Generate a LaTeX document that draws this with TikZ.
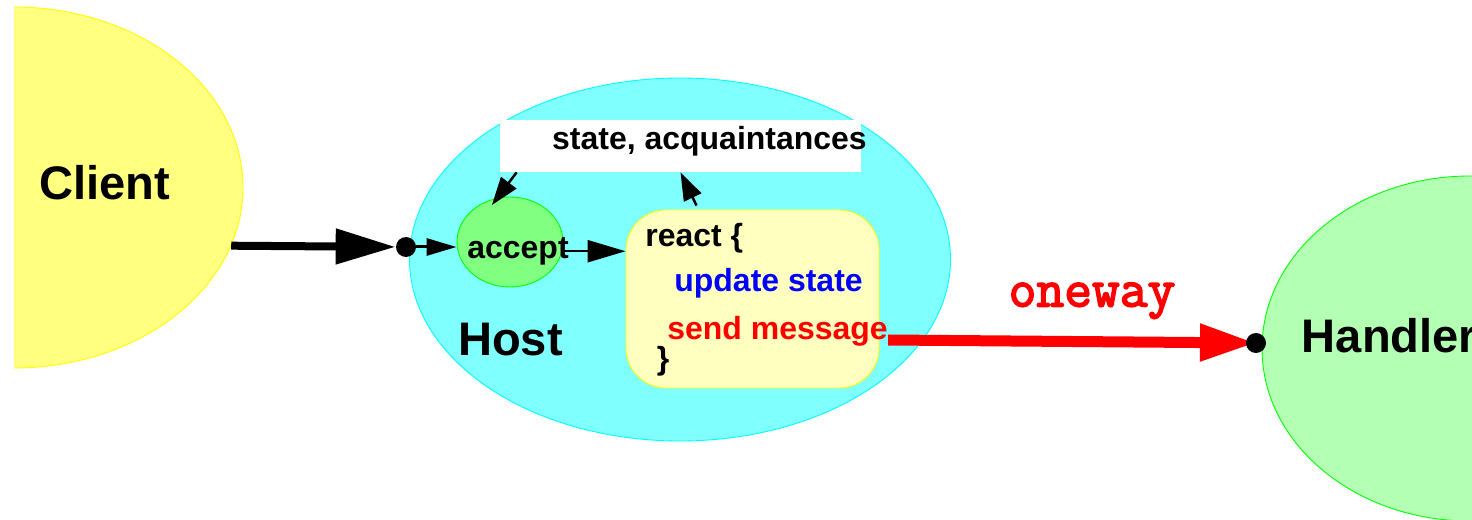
\documentclass[tikz,border=0pt]{standalone}
\usepackage{fontspec}
\setmainfont{Liberation Sans}
\newfontfamily\cour{Latin Modern Mono}[FakeBold=3]
\usetikzlibrary{shapes.geometric,arrows.meta}
\definecolor{cliyel}{RGB}{255,255,128}
\definecolor{hostcyan}{RGB}{128,255,255}
\definecolor{accgreen}{RGB}{128,255,128}
\definecolor{reactyel}{RGB}{255,255,192}
\definecolor{handgreen}{RGB}{179,255,179}
\definecolor{edgeyel}{RGB}{255,255,0}
\definecolor{edgecyan}{RGB}{0,255,255}
\definecolor{edgegreen}{RGB}{0,255,0}
\definecolor{pureblue}{RGB}{0,0,255}
\definecolor{purered}{RGB}{255,0,0}
\begin{document}
\begin{tikzpicture}[line join=round]
			\tikzset{ell/.style={ellipse,inner sep=0,line width=0.5pt},
				txt/.style={inner sep=0,font=\fontsize{18.2}{22}\selectfont\bfseries},
				big/.style={inner sep=0,font=\fontsize{26.8}{32}\selectfont\bfseries},
				dot/.style={circle,fill=black,inner sep=0,minimum size=0.4cm},
				bigarr/.style={line width=0.16cm,-{Triangle[length=1.2cm,width=0.68cm]}},
				smallarr/.style={line width=0.06cm,-{Triangle[length=0.6cm,width=0.34cm]}},
				midarr/.style={line width=0.05cm,-{Triangle[length=0.76cm,width=0.44cm]}},
				tinyarr/.style={line width=0.05cm,-{Triangle[length=0.56cm,width=0.38cm]}},
				redarr/.style={purered,line width=0.22cm,-{Triangle[length=1.12cm,width=0.7cm]}}}
			\useasboundingbox (0,0) rectangle (29.44,-10.4);
			\begin{scope}
				\clip (0.28,0) rectangle (10,-10.4);
				\node[ell,fill=cliyel,draw=edgeyel,minimum width=9.16cm,minimum height=7.22cm] (client) at (0.28,-3.75) {};
			\end{scope}
			\node[big,anchor=base] (clilbl) at (2.1,-4.0) {Client};
			\node[ell,fill=hostcyan,draw=edgecyan,minimum width=10.82cm,minimum height=7.26cm] (host) at (13.6,-5.19) {};
			\node[big] (hostlbl) at (10.21,-6.8) {Host};
			\node[fill=white,minimum width=7.22cm,minimum height=1.04cm] (mem) at (13.61,-2.92) {};
			\node[txt,anchor=base] (memlbl) at (14.19,-3.0) {state, acquaintances};
			\node[ell,fill=accgreen,draw=edgegreen,minimum width=2.12cm,minimum height=1.8cm] (acc) at (10.2,-4.84) {};
			\node[txt,anchor=base] (acclbl) at (10.36,-5.17) {accept};
			\node[rounded corners=0.8cm,fill=reactyel,draw=edgeyel,line width=0.5pt,minimum width=5.06cm,minimum height=3.56cm] (react) at (15.05,-5.98) {};
			\node[txt,anchor=base west] (reactlbl) at (12.9,-4.94) {react \{};
			\node[txt,anchor=base west,text=pureblue] (update) at (13.48,-5.83) {update state};
			\node[txt,anchor=base west,text=purered] (send) at (13.34,-6.8) {send message};
			\node[txt,anchor=base west] (close) at (13.13,-7.4) {\}};
			\node[ell,fill=handgreen,draw=edgegreen,minimum width=8.32cm,minimum height=6.9cm] (handler) at (29.4,-6.97) {};
			\node[big,anchor=base west] (handlbl) at (26.03,-7.06) {Handler};
			\node[anchor=base,inner sep=0,text=purered,font=\fontsize{30.7}{36}\selectfont\cour] (oneway) at (21.84,-6.13) {oneway};
			\node[dot] (dotin) at (8.12,-4.94) {};
			\draw[bigarr] (client.-15.4) -- (dotin);
			\draw[smallarr] (dotin) -- (dotin -| acc.west);
			\draw[midarr] (acc.-10) -- (acc.-10 -| react.west);
			\draw[tinyarr,shorten >=-0.18cm] ([xshift=0.34cm]mem.south west) -- (acc.106);
			\draw[tinyarr] ([xshift=1.42cm,yshift=0.08cm]react.north west) -- (mem.south);
			\draw[redarr] (send.base east) -- (25.12,-6.86);
			\node[dot] (dotout) at (25.12,-6.86) {};
		\end{tikzpicture}
\end{document}
